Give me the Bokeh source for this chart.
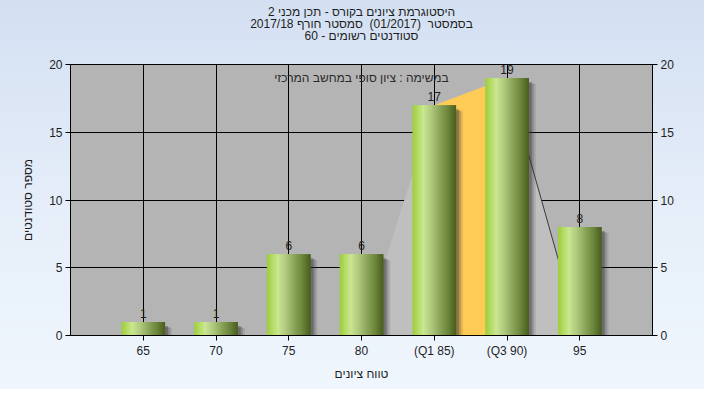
import numpy as np
from bokeh.plotting import figure
from bokeh.layouts import column
from bokeh.models import Label, Range1d, LinearAxis, FixedTicker, ColumnDataSource
from bokeh.embed import file_html
from bokeh.resources import INLINE
from bokeh.core.properties import value

# ---------------- data ----------------
categories = ["65", "70", "75", "80", "(Q1 85)", "(Q3 90)", "95"]
counts = [1, 1, 6, 6, 17, 19, 8]
quartile_outline = [0, 0, 0, 0, 17, 19, 0]
q1_index = 4
q3_index = 5
y_ticks = [0, 5, 10, 15, 20]
title_lines = [
    "היסטוגרמת ציונים בקורס - תכן מכני 2",
    "בסמסטר \u00a0(01/2017) \u00a0סמסטר חורף 2017/18",
    "סטודנטים רשומים - 60",
]
note_text = "במשימה : ציון סופי במחשב המרכזי"
y_label = "מספר סטודנטים"
x_label = "טווח ציונים"

# ---------------- style ----------------
FONT = "Liberation Sans"
TXT = "#1e1e1e"
W, H = 704, 389
TH = 56                      # height of the title strip
FL, FR, FT, FB = 70, 52, 64 - TH, 54
XMAX, YMAX = len(categories) + 1, 20
px_x = (W - FL - FR) / XMAX      # pixels per x unit
px_y = (H - TH - FT - FB) / YMAX  # pixels per y unit
BAR_W = 0.6

xs = list(range(1, len(categories) + 1))

# ---------------- title strip ----------------
t = figure(width=W, height=TH, x_range=Range1d(0, W), y_range=Range1d(0, TH),
           output_backend="svg", toolbar_location=None, min_border=0)
t.axis.visible = False
t.grid.visible = False
t.outline_line_color = None
t.background_fill_color = None
t.border_fill_color = None
t.text(x=[W / 2] * 3, y=[TH - 11, TH - 23, TH - 35], text=title_lines,
       text_align="center", text_baseline="middle", text_font=value(FONT),
       text_font_size="12px", text_color=TXT)

# ---------------- main plot ----------------
p = figure(width=W, height=H - TH, x_range=Range1d(0, XMAX), y_range=Range1d(0, YMAX),
           output_backend="svg", toolbar_location=None,
           min_border_left=FL, min_border_right=FR, min_border_top=FT, min_border_bottom=FB)
p.border_fill_color = None
p.background_fill_color = "#b4b4b4"
p.outline_line_color = "black"

# axes
p.add_layout(LinearAxis(), "right")
for ax in p.yaxis:
    ax.ticker = FixedTicker(ticks=y_ticks)
for ax in p.xaxis:
    ax.ticker = FixedTicker(ticks=xs)
    ax.major_label_overrides = {x: c for x, c in zip(xs, categories)}
for ax in list(p.xaxis) + list(p.yaxis):
    ax.axis_line_color = "black"
    ax.major_tick_line_color = "black"
    ax.major_tick_out = 5
    ax.major_tick_in = 0
    ax.minor_tick_line_color = None
    ax.major_label_text_font = FONT
    ax.major_label_text_font_size = "12px"
    ax.major_label_text_color = TXT
    ax.major_label_standoff = 3
    ax.axis_label_text_font = FONT
    ax.axis_label_text_font_size = "12px"
    ax.axis_label_text_font_style = "normal"
    ax.axis_label_text_color = TXT
p.xaxis.axis_label = x_label
p.xaxis.axis_label_standoff = 6
p.yaxis[0].axis_label = y_label
p.yaxis[0].axis_label_standoff = 11

p.grid.grid_line_color = "black"
p.grid.grid_line_width = 1
p.xgrid.ticker = FixedTicker(ticks=xs)
p.ygrid.ticker = FixedTicker(ticks=y_ticks)

# quartile area (light grey), orange Q1-Q3 band and right edge line
p.varea(x=xs, y1=[0] * len(xs), y2=quartile_outline, fill_color="#bfbfbf")
p.varea(x=xs[q1_index:q3_index + 1], y1=[0, 0], y2=quartile_outline[q1_index:q3_index + 1],
        fill_color="#ffcb57")
p.line(x=xs[q3_index:q3_index + 2], y=quartile_outline[q3_index:q3_index + 2],
       line_color="#3a3a3a", line_width=1)

# bar shadows
for dpx, dpy, alpha in [(7, 6, 0.12), (5, 5, 0.22), (3, 4, 0.35)]:
    dx, dy = dpx / px_x, dpy / px_y
    p.quad(left=[x - BAR_W / 2 + dx for x in xs], right=[x + BAR_W / 2 + dx for x in xs],
           top=[max(c - dy, 0) for c in counts], bottom=[0] * len(xs),
           fill_color="#303030", fill_alpha=alpha, line_color=None)

# bars with cylindrical gradient
stops = [(0.0, (0x9c, 0xcd, 0x3a)), (0.12, (0xb3, 0xdb, 0x62)), (0.25, (0xca, 0xe6, 0x90)),
         (0.42, (0xb2, 0xcb, 0x80)), (0.62, (0x8b, 0xa6, 0x5a)), (0.82, (0x6a, 0x84, 0x3a)),
         (1.0, (0x47, 0x5d, 0x1e))]


def grad(tt):
    for (t0, c0), (t1, c1) in zip(stops[:-1], stops[1:]):
        if tt <= t1:
            f = (tt - t0) / (t1 - t0)
            return "#%02x%02x%02x" % tuple(int(round(a + (b - a) * f)) for a, b in zip(c0, c1))
    return "#%02x%02x%02x" % stops[-1][1]


N = 30
L, R, T, B, C = [], [], [], [], []
for x, c in zip(xs, counts):
    x0 = x - BAR_W / 2
    for k in range(N):
        L.append(x0 + BAR_W * k / N)
        R.append(min(x0 + BAR_W * (k + 2) / N, x0 + BAR_W))
        T.append(c)
        B.append(0)
        C.append(grad((k + 0.5) / N))
p.quad(source=ColumnDataSource(dict(left=L, right=R, top=T, bottom=B, color=C)),
       left="left", right="right", top="top", bottom="bottom",
       fill_color="color", line_color=None)

# value labels
p.text(x=xs, y=counts, text=[str(c) for c in counts], text_align="center",
       text_baseline="bottom", y_offset=-4, text_font=value(FONT),
       text_font_size="12px", text_color=TXT)

# note inside plot
p.add_layout(Label(x=XMAX / 2, y=YMAX - 13 / px_y, text=note_text, text_align="center",
                   text_baseline="middle", text_font=FONT, text_font_size="12px",
                   text_color="#2a2a2a"))

layout = column(t, p, spacing=0)
layout.styles = {"background": "linear-gradient(to bottom, #d3e0f2 0%, #e6eef9 55%, #eff6fd 100%)"}

open("out.html", "w").write(file_html(layout, INLINE))
